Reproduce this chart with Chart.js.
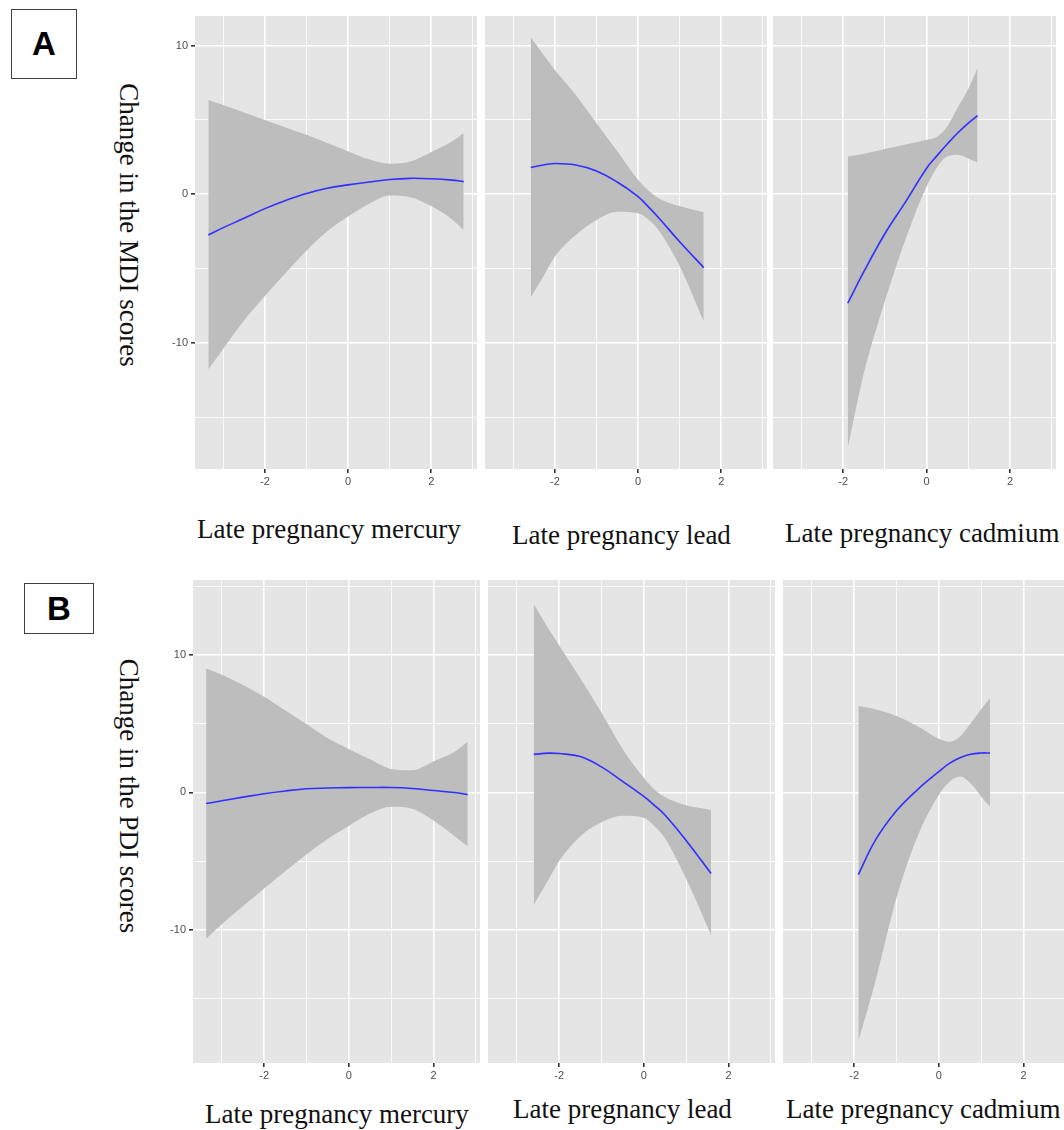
<!DOCTYPE html>
<html>
<head>
<meta charset="utf-8">
<script src="https://cdn.jsdelivr.net/npm/chart.js@4.4.1/dist/chart.umd.min.js"></script>
<style>
  html, body { margin: 0; padding: 0; background: #fff; overflow: hidden; }
  body { width: 1064px; height: 1130px; position: relative; }
  canvas { position: absolute; }
  .title { position: absolute; font-family: "Liberation Serif", "Times New Roman", serif; font-size: 27px; line-height: 27px; color: #111; white-space: nowrap; }
  .ytitle { transform: translate(-50%, -50%) rotate(90deg); }
  .tag { position: absolute; box-sizing: border-box; border: 1.5px solid #404040; display: flex; align-items: center; justify-content: center;
         font-family: "Liberation Sans", Arial, sans-serif; font-weight: bold; font-size: 33px; color: #000; }
</style>
</head>
<body>

<div class="tag" style="left:11px; top:9px; width:66px; height:70px;">A</div>
<div class="tag" style="left:24px; top:583px; width:70px; height:51px;">B</div>

<div class="title ytitle" style="left:128px; top:225px;">Change in the MDI scores</div>
<div class="title ytitle" style="left:128px; top:796px;">Change in the PDI scores</div>

<div class="title" style="left:197px; top:516px;">Late pregnancy mercury</div>
<div class="title" style="left:512px; top:522px;">Late pregnancy lead</div>
<div class="title" style="left:785px; top:520px;">Late pregnancy cadmium</div>
<div class="title" style="left:205px; top:1101px;">Late pregnancy mercury</div>
<div class="title" style="left:513px; top:1096px;">Late pregnancy lead</div>
<div class="title" style="left:786px; top:1096px;">Late pregnancy cadmium</div>

<canvas id="a1"></canvas>
<canvas id="a2"></canvas>
<canvas id="a3"></canvas>
<canvas id="b1"></canvas>
<canvas id="b2"></canvas>
<canvas id="b3"></canvas>

<script>
// axis breaks (major ones get labels)
const xBreaks = [-3, -2, -1, 0, 1, 2, 3];
const yBreaks = [-15, -10, -5, 0, 5, 10, 15];

// MDI ~ late pregnancy mercury
const mdiMercuryX     = [-3.36, -3, -2.5, -2, -1.5, -1, -0.5, 0, 0.5, 1, 1.5, 2, 2.5, 2.78];
const mdiMercuryFit   = [-2.75, -2.25, -1.62, -0.97, -0.42, 0.05, 0.4, 0.63, 0.82, 0.99, 1.07, 1.04, 0.95, 0.85];
const mdiMercuryLower = [-11.8, -10.4, -8.5, -6.85, -5.3, -3.8, -2.5, -1.5, -0.65, -0.08, -0.2, -0.8, -1.7, -2.4];
const mdiMercuryUpper = [6.35, 6.0, 5.5, 5.0, 4.5, 4.0, 3.45, 2.9, 2.35, 2.05, 2.2, 2.85, 3.55, 4.1];

// MDI ~ late pregnancy lead
const mdiLeadX     = [-2.58, -2.25, -2, -1.5, -1, -0.5, 0, 0.25, 0.5, 1, 1.58];
const mdiLeadFit   = [1.8, 1.98, 2.07, 1.97, 1.57, 0.82, -0.16, -0.85, -1.6, -3.2, -4.94];
const mdiLeadLower = [-6.96, -5.4, -4.2, -2.75, -1.73, -1.18, -1.28, -1.7, -2.45, -4.85, -8.57];
const mdiLeadUpper = [10.57, 9.3, 8.37, 6.7, 4.78, 2.9, 0.97, 0.25, -0.28, -0.8, -1.21];

// MDI ~ late pregnancy cadmium
const mdiCadmiumX     = [-1.89, -1.5, -1, -0.5, 0, 0.25, 0.5, 0.75, 1, 1.22];
const mdiCadmiumFit   = [-7.34, -5.2, -2.66, -0.5, 1.75, 2.6, 3.4, 4.14, 4.79, 5.3];
const mdiCadmiumLower = [-17.1, -12.0, -7.2, -3.0, 0.52, 1.8, 2.55, 2.65, 2.4, 2.13];
const mdiCadmiumUpper = [2.54, 2.72, 3.05, 3.35, 3.66, 3.87, 4.6, 5.85, 7.1, 8.48];

// PDI ~ late pregnancy mercury
const pdiMercuryX     = [-3.37, -3, -2.5, -2, -1.5, -1, -0.5, 0, 0.5, 1, 1.5, 2, 2.5, 2.81];
const pdiMercuryFit   = [-0.82, -0.62, -0.35, -0.1, 0.1, 0.26, 0.31, 0.34, 0.35, 0.35, 0.28, 0.13, -0.02, -0.16];
const pdiMercuryLower = [-10.65, -9.6, -8.3, -7.0, -5.75, -4.53, -3.4, -2.45, -1.55, -1.05, -1.2, -2.06, -3.2, -3.93];
const pdiMercuryUpper = [9.01, 8.55, 7.8, 6.95, 5.95, 4.97, 3.95, 3.15, 2.4, 1.7, 1.6, 2.24, 2.95, 3.67];

// PDI ~ late pregnancy lead
const pdiLeadX     = [-2.6, -2.25, -2, -1.5, -1, -0.5, 0, 0.25, 0.5, 1, 1.59];
const pdiLeadFit   = [2.76, 2.85, 2.82, 2.6, 1.85, 0.8, -0.3, -0.95, -1.65, -3.5, -5.91];
const pdiLeadLower = [-8.18, -6.35, -5.0, -3.2, -2.18, -1.7, -1.85, -2.45, -3.35, -6.3, -10.39];
const pdiLeadUpper = [13.7, 11.9, 10.7, 8.3, 5.8, 3.15, 1.05, 0.2, -0.35, -0.95, -1.28];

// PDI ~ late pregnancy cadmium
const pdiCadmiumX     = [-1.9, -1.5, -1, -0.5, 0, 0.25, 0.5, 0.75, 1, 1.21];
const pdiCadmiumFit   = [-5.99, -3.5, -1.35, 0.2, 1.5, 2.1, 2.52, 2.77, 2.86, 2.86];
const pdiCadmiumLower = [-18.1, -13.8, -7.7, -3.2, -0.2, 0.75, 1.15, 0.65, -0.3, -1.04];
const pdiCadmiumUpper = [6.28, 6.05, 5.55, 4.8, 3.9, 3.68, 4.05, 5.0, 6.05, 6.85];

const xRange = [-3.68, 3.1];
const mdiRange = [-18.5, 12];
const pdiRange = [-19.7, 15.45];

const Y_AXIS_W = 40;
const X_AXIS_H = 26;

// grey panel background like ggplot
const panelBackground = {
  id: 'panelBackground',
  beforeDraw(chart) {
    const {ctx, chartArea: a} = chart;
    ctx.save();
    ctx.fillStyle = '#E5E5E5';
    ctx.fillRect(a.left, a.top, a.right - a.left, a.bottom - a.top);
    ctx.restore();
  }
};

const tickFont = {family: '"Liberation Sans", Arial, sans-serif', size: 11};

function makePanel(id, box, xs, fit, lower, upper, yRange, showY) {
  const yw = showY ? Y_AXIS_W : 0;
  const cv = document.getElementById(id);
  cv.width = box.w + yw;
  cv.height = box.h + X_AXIS_H;
  cv.style.left = (box.x - yw) + 'px';
  cv.style.top = box.y + 'px';

  const pts = (ys) => xs.map((x, i) => ({x: x, y: ys[i]}));
  const band = {pointRadius: 0, borderWidth: 1, borderColor: 'rgba(0,0,0,0)', cubicInterpolationMode: 'monotone', order: 2};

  new Chart(cv, {
    type: 'line',
    data: {
      datasets: [
        Object.assign({data: pts(upper), fill: '+1', backgroundColor: '#BDBDBD'}, band),
        Object.assign({data: pts(lower), fill: false}, band),
        // smooth fit on top of the ribbon
        {data: pts(fit), fill: false, borderColor: '#2F2FFF', borderWidth: 1.6, pointRadius: 0, tension: 0.4, order: 0}
      ]
    },
    options: {
      responsive: false,
      animation: false,
      layout: {padding: 0},
      plugins: {legend: {display: false}, tooltip: {enabled: false}},
      scales: {
        x: {
          type: 'linear', min: xRange[0], max: xRange[1],
          afterBuildTicks: (axis) => { axis.ticks = xBreaks.map(v => ({value: v})); },
          afterFit: (axis) => { axis.height = X_AXIS_H; axis.paddingLeft = 0; axis.paddingRight = 0; },
          border: {display: false},
          grid: {
            color: '#FFFFFF',
            lineWidth: (c) => (c.tick && c.tick.value % 2 === 0) ? 1.6 : 0.8,
            tickColor: (c) => (c.tick && c.tick.value % 2 === 0) ? '#333333' : 'rgba(0,0,0,0)',
            tickLength: 4
          },
          ticks: {
            autoSkip: false, maxRotation: 0, padding: 2, color: '#4D4D4D', font: tickFont,
            callback: (v) => v % 2 === 0 ? String(v) : ''
          }
        },
        y: {
          type: 'linear', min: yRange[0], max: yRange[1],
          afterBuildTicks: (axis) => {
            axis.ticks = yBreaks.filter(v => v >= yRange[0] && v <= yRange[1]).map(v => ({value: v}));
          },
          afterFit: (axis) => { axis.width = yw; axis.paddingTop = 0; axis.paddingBottom = 0; },
          border: {display: false},
          grid: {
            color: '#FFFFFF',
            lineWidth: (c) => (c.tick && c.tick.value % 10 === 0) ? 1.6 : 0.8,
            tickColor: (c) => (c.tick && c.tick.value % 10 === 0) ? '#333333' : 'rgba(0,0,0,0)',
            drawTicks: showY,
            tickLength: 4
          },
          ticks: {
            display: showY, autoSkip: false, padding: 3, color: '#4D4D4D', font: tickFont,
            callback: (v) => v % 10 === 0 ? String(v) : ''
          }
        }
      }
    },
    plugins: [panelBackground]
  });
}

makePanel('a1', {x: 195, y: 16, w: 282, h: 453}, mdiMercuryX, mdiMercuryFit, mdiMercuryLower, mdiMercuryUpper, mdiRange, true);
makePanel('a2', {x: 485, y: 16, w: 282, h: 453}, mdiLeadX, mdiLeadFit, mdiLeadLower, mdiLeadUpper, mdiRange, false);
makePanel('a3', {x: 773, y: 16, w: 283, h: 453}, mdiCadmiumX, mdiCadmiumFit, mdiCadmiumLower, mdiCadmiumUpper, mdiRange, false);

makePanel('b1', {x: 193, y: 580, w: 287, h: 483}, pdiMercuryX, pdiMercuryFit, pdiMercuryLower, pdiMercuryUpper, pdiRange, true);
makePanel('b2', {x: 488, y: 580, w: 287, h: 483}, pdiLeadX, pdiLeadFit, pdiLeadLower, pdiLeadUpper, pdiRange, false);
makePanel('b3', {x: 783, y: 580, w: 287, h: 483}, pdiCadmiumX, pdiCadmiumFit, pdiCadmiumLower, pdiCadmiumUpper, pdiRange, false);
</script>
</body>
</html>
